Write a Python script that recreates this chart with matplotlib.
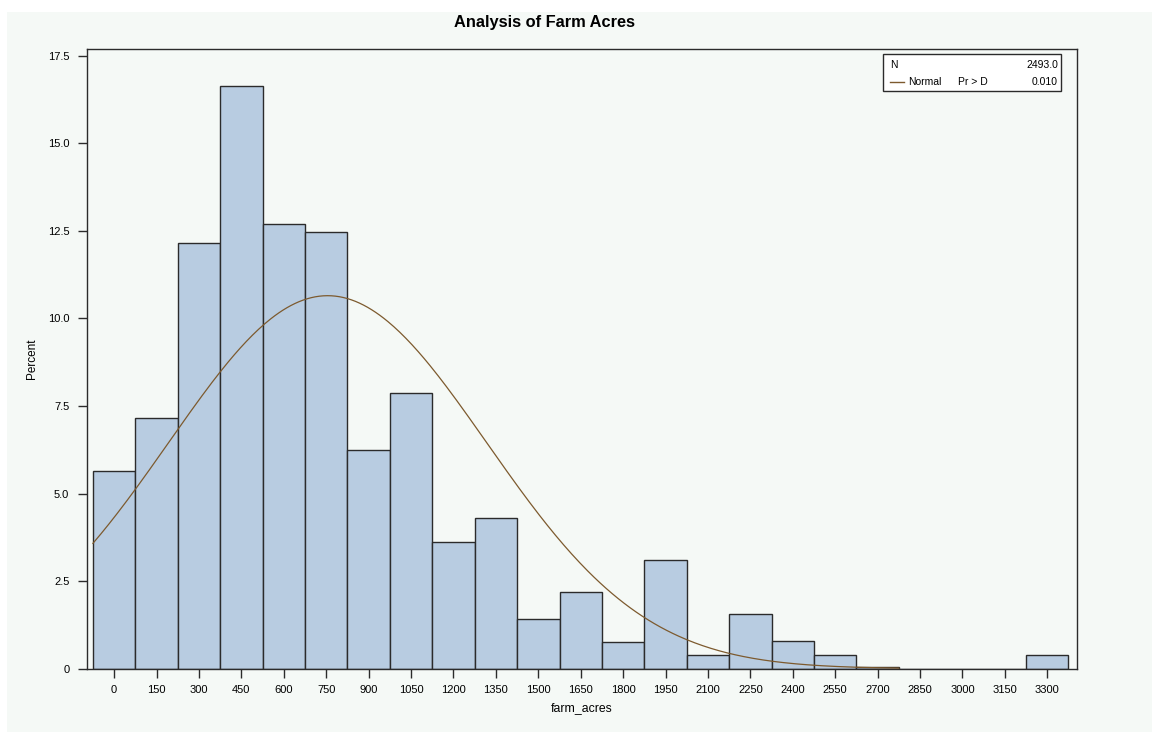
import numpy as np
import matplotlib
matplotlib.use("Agg")
import matplotlib.pyplot as plt
from matplotlib.patches import Rectangle

# histogram midpoints (farm acres) and percent of farms in each bin
midpoints = [0, 150, 300, 450, 600, 750, 900, 1050, 1200, 1350, 1500, 1650,
             1800, 1950, 2100, 2250, 2400, 2550, 2700, 2850, 3000, 3150, 3300]
percent = [5.65, 7.17, 12.16, 16.64, 12.70, 12.47, 6.25, 7.88, 3.63, 4.31,
           1.43, 2.20, 0.77, 3.11, 0.40, 1.57, 0.80, 0.40, 0.04, 0.0, 0.0,
           0.0, 0.40]
bin_width = 150

# fitted normal
n_obs = 2493
mu = 755.0
sigma = 562.0
pr_d = 0.010

yticks = [0, 2.5, 5.0, 7.5, 10.0, 12.5, 15.0, 17.5]
ytick_labels = ["0", "2.5", "5.0", "7.5", "10.0", "12.5", "15.0", "17.5"]

W, H = 1152, 732
bg = "#F5F9F6"
bar_col = "#B8CCE1"
edge_col = "#2B2B2B"
curve_col = "#7D5A2E"
font = "Liberation Sans"

def fx(x):
    return x / W

def fy(y):
    return 1 - y / H

fig = plt.figure(figsize=(W / 100, H / 100), dpi=100, facecolor="white")
# light panel behind everything
fig.patches.append(Rectangle((fx(7), 0), 1 - fx(7), fy(12), transform=fig.transFigure,
                             facecolor=bg, edgecolor="none", zorder=-5))

ax = fig.add_axes([fx(86.7), fy(668.7), fx(1076.7) - fx(86.7), fy(49) - fy(668.7)])
ax.set_facecolor(bg)

ax.bar(midpoints, percent, width=bin_width, color=bar_col, edgecolor=edge_col,
       linewidth=1.0, zorder=2)

xs = np.linspace(midpoints[0] - bin_width / 2, 2775, 400)
pdf = 100 * bin_width / (sigma * np.sqrt(2 * np.pi)) * np.exp(-0.5 * ((xs - mu) / sigma) ** 2)
ax.plot(xs, pdf, color=curve_col, lw=0.9, zorder=3)

ax.set_xlim(-97, 3404)
ax.set_ylim(0, 17.69)
ax.set_xticks(midpoints)
ax.set_xticklabels([str(m) for m in midpoints], fontsize=8, family=font)
ax.set_yticks(yticks)
ax.set_yticklabels(ytick_labels, fontsize=8, family=font)
ax.tick_params(axis="both", direction="out", length=6.5, width=1, color=edge_col)
ax.tick_params(axis="y", pad=6)
ax.tick_params(axis="x", pad=5)
for s in ax.spines.values():
    s.set_color(edge_col)
    s.set_linewidth(1)

ax.set_xlabel("farm_acres", fontsize=8.8, family=font, labelpad=5)
ax.set_ylabel("Percent", fontsize=8.5, family=font, labelpad=7)

fig.text(fx(545), fy(22), "Analysis of Farm Acres", ha="center", va="center",
         fontsize=11.8, fontweight="bold", family=font)

# inset legend / stats box
fig.patches.append(Rectangle((fx(883), fy(90.7)), fx(1061) - fx(883), fy(54.3) - fy(90.7),
                             transform=fig.transFigure, facecolor="white",
                             edgecolor=edge_col, lw=1, zorder=5))
fig.text(fx(890), fy(65), "N", fontsize=7.5, family=font, va="center", zorder=6)
fig.text(fx(1058), fy(65), f"{n_obs:.1f}", fontsize=7.5, family=font, va="center",
         ha="right", zorder=6)
fig.lines.append(plt.Line2D([fx(889.5), fx(904)], [fy(82.3), fy(82.3)], transform=fig.transFigure,
                            color=curve_col, lw=1, zorder=6))
fig.text(fx(908), fy(82.3), "Normal", fontsize=7.5, family=font, va="center", zorder=6)
fig.text(fx(958), fy(82.3), "Pr > D", fontsize=7.5, family=font, va="center", zorder=6)
fig.text(fx(1058), fy(82.3), f"{pr_d:.3f}", fontsize=7.5, family=font, va="center",
         ha="right", zorder=6)

fig.savefig("out.png", dpi=100, facecolor=fig.get_facecolor())
